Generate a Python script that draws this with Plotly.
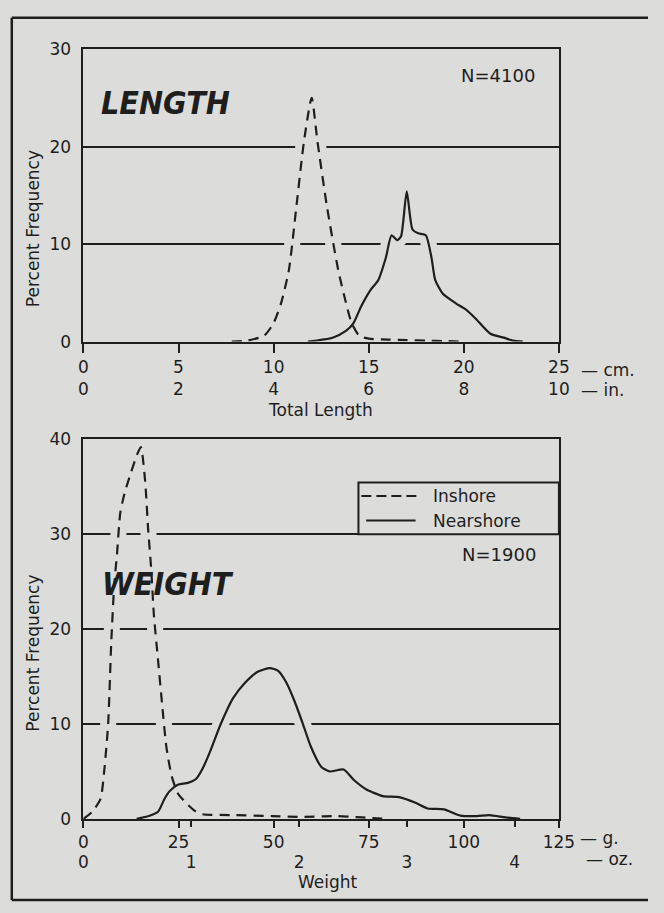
import plotly.graph_objects as go

# ---------------- data ----------------
# Length panel (x in cm, y in percent frequency)
LEN_INSHORE_X = [7.8, 8.6, 9.5, 10.0, 10.4, 10.8, 11.2, 11.6, 12.0, 12.3, 12.8, 13.4, 13.8, 14.1, 14.5, 15.0, 16.0, 17.0, 18.0, 19.0, 19.8]
LEN_INSHORE_Y = [0, 0.1, 0.6, 1.9, 4.0, 7.3, 13.9, 20.6, 25.0, 20.6, 13.9, 7.3, 4.0, 1.9, 0.6, 0.3, 0.2, 0.15, 0.1, 0.05, 0]

LEN_NEAR_X = [11.8, 13.1, 13.8, 14.2, 14.6, 15.1, 15.5, 15.9, 16.2, 16.5, 16.7, 17.0, 17.3, 17.6, 18.0, 18.3, 18.5, 18.9, 19.6, 20.1, 20.6, 21.4, 22.1, 22.6, 23.1]
LEN_NEAR_Y = [0, 0.4, 1.1, 1.9, 3.6, 5.3, 6.3, 8.6, 10.9, 10.4, 10.8, 15.4, 11.5, 11.1, 10.9, 8.6, 6.3, 4.9, 3.9, 3.3, 2.4, 0.8, 0.4, 0.1, 0]

# Weight panel (x in grams, y in percent frequency)
WT_INSHORE_X = [0, 2.2, 4.5, 5.4, 6.5, 7.3, 8.1, 8.8, 9.7, 10.8, 12.4, 14.2, 15.1, 16.2, 17.0, 17.8, 18.5, 19.6, 20.7, 21.8, 23.2, 24.8, 26.9, 29.1, 31.2, 39.9, 49.6, 57.1, 65.7, 73.3, 79.7]
WT_INSHORE_Y = [0, 0.7, 2.1, 4.8, 10.0, 18.5, 24.7, 27.8, 32.3, 34.3, 36.4, 38.5, 39.2, 35.7, 30.6, 26.4, 21.6, 16.8, 12.0, 7.6, 4.5, 2.7, 1.7, 0.9, 0.5, 0.4, 0.3, 0.2, 0.3, 0.15, 0]

WT_NEAR_X = [14.0, 17.2, 19.6, 21.3, 22.6, 24.8, 27.5, 29.6, 31.2, 33.4, 36.1, 39.3, 42.6, 45.8, 49.0, 51.2, 53.3, 55.5, 57.7, 59.8, 62.5, 64.7, 68.4, 71.1, 74.4, 78.7, 83.0, 87.3, 90.5, 94.8, 99.1, 103.4, 106.7, 111.0, 114.8]
WT_NEAR_Y = [0, 0.3, 0.75, 2.1, 2.9, 3.6, 3.8, 4.2, 5.2, 7.2, 10.0, 12.7, 14.4, 15.5, 15.9, 15.6, 14.4, 12.4, 10.0, 7.6, 5.5, 5.0, 5.2, 4.1, 3.1, 2.4, 2.3, 1.7, 1.1, 1.0, 0.35, 0.3, 0.4, 0.15, 0]

# tick labels
CM_TICKS = [0, 5, 10, 15, 20, 25]
IN_LABELS = ["0", "2", "4", "6", "8", "10"]
LEN_Y_TICKS = [0, 10, 20, 30]
G_TICKS = [0, 25, 50, 75, 100, 125]
OZ_TICKS = [0, 1, 2, 3, 4]
WT_Y_TICKS = [0, 10, 20, 30, 40]
G_PER_OZ = 28.3495

N_LENGTH = "N=4100"
N_WEIGHT = "N=1900"
SERIES = ["Inshore", "Nearshore"]

# ---------------- styling ----------------
W, H = 664, 913
BG = "#dcdcda"
INK = "#1e1e1e"
FONT = "DejaVu Sans"
DASH = "10px,7px"


def px(x):
    return x / W


def py(y):
    return 1 - y / H


fig = go.Figure()

panels = [
    ("x", "y", [(LEN_INSHORE_X, LEN_INSHORE_Y, DASH), (LEN_NEAR_X, LEN_NEAR_Y, "solid")]),
    ("x2", "y2", [(WT_INSHORE_X, WT_INSHORE_Y, DASH), (WT_NEAR_X, WT_NEAR_Y, "solid")]),
]

for xa, ya, curves in panels:
    # background-coloured halo under each curve (breaks the grid lines as in the print)
    for xs, ys, _ in curves:
        fig.add_trace(go.Scatter(x=xs, y=ys, xaxis=xa, yaxis=ya, mode="lines",
                                 line=dict(color=BG, width=16, shape="spline", smoothing=0.6),
                                 hoverinfo="skip", showlegend=False))
    for xs, ys, dash in curves:
        fig.add_trace(go.Scatter(x=xs, y=ys, xaxis=xa, yaxis=ya, mode="lines",
                                 line=dict(color=INK, width=2.2, dash=dash, shape="spline", smoothing=0.6),
                                 showlegend=False))

xdom = [px(81), px(572)]
axis_common = dict(showline=True, linecolor=INK, linewidth=2, mirror=True, zeroline=False,
                   tickfont=dict(family=FONT, size=17, color=INK))

fig.update_layout(
    width=W, height=H,
    margin=dict(l=0, r=0, t=0, b=0),
    paper_bgcolor=BG, plot_bgcolor=BG,
    showlegend=False,
    font=dict(family=FONT, color=INK),
    xaxis=dict(domain=xdom, range=[0, 25], anchor="y", showgrid=False,
               tickvals=CM_TICKS, ticktext=[f"{c}<br>{i}" for c, i in zip(CM_TICKS, IN_LABELS)],
               ticks="outside", ticklen=9, tickwidth=2, tickcolor=INK, **axis_common),
    yaxis=dict(domain=[py(339), py(40)], range=[0, 30], anchor="x", tickvals=LEN_Y_TICKS,
               showgrid=True, gridcolor=INK, gridwidth=2, ticks="", ticklabelstandoff=7,
               **axis_common),
    xaxis2=dict(domain=xdom, range=[0, 125], anchor="y2", showgrid=False,
                tickvals=G_TICKS, ticktext=[str(g) for g in G_TICKS],
                ticks="outside", ticklen=7, tickwidth=2, tickcolor=INK, **axis_common),
    xaxis3=dict(overlaying="x2", anchor="y2", side="bottom", range=[0, 125 / G_PER_OZ],
                tickvals=OZ_TICKS, ticktext=[str(o) for o in OZ_TICKS],
                ticks="outside", ticklen=7, tickwidth=2, tickcolor=INK,
                showline=False, showgrid=False, zeroline=False, ticklabelstandoff=21,
                tickfont=dict(family=FONT, size=17, color=INK)),
    yaxis2=dict(domain=[py(827), py(439)], range=[0, 40], anchor="x2", tickvals=WT_Y_TICKS,
                showgrid=True, gridcolor=INK, gridwidth=2, ticks="", ticklabelstandoff=7,
                **axis_common),
)

# empty trace so the ounce axis is rendered
fig.add_trace(go.Scatter(x=[None], y=[None], xaxis="x3", yaxis="y2", showlegend=False, hoverinfo="skip"))


def note(text, x, y, size=17, xanchor="center", angle=0):
    fig.add_annotation(text=text, x=x, y=y, xref="paper", yref="paper", showarrow=False,
                       xanchor=xanchor, yanchor="middle", textangle=angle,
                       font=dict(family=FONT, size=size, color=INK))


note("Percent Frequency", px(29), py(224), angle=-90)
note("Percent Frequency", px(29), py(658), angle=-90)
note("Total Length", px(326), py(409))
note("Weight", px(334), py(892))
note(N_LENGTH, px(509), py(67), size=18)
note(N_WEIGHT, px(510), py(557), size=18)
note("— cm.", px(593), py(368), xanchor="left")
note("— in.", px(593), py(388), xanchor="left")
note("— g.", px(592), py(847), xanchor="left")
note("— oz.", px(598), py(868), xanchor="left")

for txt, x, y in [("LENGTH", 97, 95), ("WEIGHT", 98, 587)]:
    fig.add_annotation(text=f"<b><i>{txt}</i></b>", x=px(x), y=py(y), xref="paper", yref="paper",
                       showarrow=False, xanchor="left", yanchor="middle",
                       font=dict(family="DejaVu Sans Condensed, DejaVu Sans", size=32, color=INK))

# legend box (weight panel)
fig.add_shape(type="rect", xref="paper", yref="paper", x0=px(365), x1=px(572), y0=py(536), y1=py(483),
              line=dict(color=INK, width=2), fillcolor=BG, layer="above")
fig.add_shape(type="line", xref="paper", yref="paper", x0=px(368), x1=px(426), y0=py(497), y1=py(497),
              line=dict(color=INK, width=2, dash="10px,5px"))
fig.add_shape(type="line", xref="paper", yref="paper", x0=px(373), x1=px(424), y0=py(522), y1=py(522),
              line=dict(color=INK, width=2))
note(SERIES[0], px(440), py(497), xanchor="left")
note(SERIES[1], px(440), py(522), xanchor="left")

# page frame
for x0, y0, x1, y1 in [(7, 8, 664, 8), (7, 8, 7, 910), (7, 910, 664, 910)]:
    fig.add_shape(type="line", xref="paper", yref="paper", x0=px(x0), x1=px(x1), y0=py(y0), y1=py(y1),
                  line=dict(color=INK, width=2.5))

fig.write_html("out.html", config={"displayModeBar": False},
               post_script="document.body.style.margin='0';document.body.style.overflow='hidden';")
